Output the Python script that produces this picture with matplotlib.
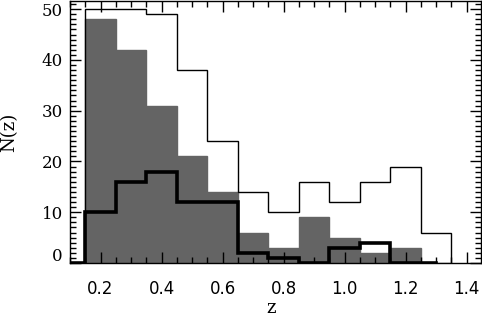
import matplotlib
matplotlib.use('Agg')
import matplotlib.pyplot as plt
from matplotlib.ticker import MultipleLocator

# bin edges and histogram counts
z_edges = [0.15, 0.25, 0.35, 0.45, 0.55, 0.65, 0.75, 0.85, 0.95, 1.05, 1.15, 1.25, 1.35]
n_all = [50, 50, 49, 38, 24, 14, 10, 16, 12, 16, 19, 6]
n_gray = [48, 42, 31, 21, 14, 6, 3, 9, 5, 2, 3, 0]
# thick histogram drawn IDL psym=10 style, points at bin centres
z_mid = [0.1, 0.2, 0.3, 0.4, 0.5, 0.6, 0.7, 0.8, 0.9, 1.0, 1.1, 1.2, 1.3]
n_thick = [0, 10, 16, 18, 12, 12, 2, 1, 0, 3, 4, 0, 0]

plt.rcParams['font.family'] = 'DejaVu Serif'

fig = plt.figure(figsize=(4.82, 3.22), dpi=100)
ax = fig.add_axes([70 / 482, 59 / 322, 411 / 482, 262 / 322])

ax.stairs(n_gray, z_edges, fill=True, color='#646464', lw=0)
ax.stairs(n_gray, z_edges, color='#646464', lw=1)
ax.stairs(n_all, z_edges, color='black', lw=1)
ax.step(z_mid, n_thick, where='mid', color='black', lw=2.6, solid_joinstyle='miter')

ax.set_xlim(0.1, 1.447)
ax.set_ylim(0, 51.6)
ax.xaxis.set_major_locator(MultipleLocator(0.2))
ax.xaxis.set_minor_locator(MultipleLocator(0.05))
ax.yaxis.set_major_locator(MultipleLocator(10))
ax.yaxis.set_minor_locator(MultipleLocator(1))
ax.xaxis.set_major_formatter(lambda v, p: f'{v:.1f}')
# the zero label sits a bit higher in the original, drawn separately below
ax.yaxis.set_major_formatter(lambda v, p: '' if abs(v) < 1e-9 else f'{v:.0f}')
ax.tick_params(which='both', direction='in', top=True, right=True, width=1)
ax.tick_params(which='major', length=8)
ax.tick_params(which='minor', length=4)
ax.tick_params(axis='x', pad=12, labelsize=12)
ax.tick_params(axis='y', pad=5, labelsize=12)
for lab in ax.get_xticklabels():
    lab.set_family('DejaVu Sans')
for s in ax.spines.values():
    s.set_linewidth(1)

ax.annotate('0', xy=(0, 0), xycoords=('axes fraction', 'data'), xytext=(-5.5, 4.5),
            textcoords='offset points', ha='right', va='center', fontsize=12)

ax.set_xlabel('z', fontsize=13, va='center')
ax.xaxis.set_label_coords(0.49, -0.172)
ax.set_ylabel('N(z)', fontsize=13, va='center')
ax.yaxis.set_label_coords(-0.148, 0.5)

fig.savefig('out.png', dpi=100)
